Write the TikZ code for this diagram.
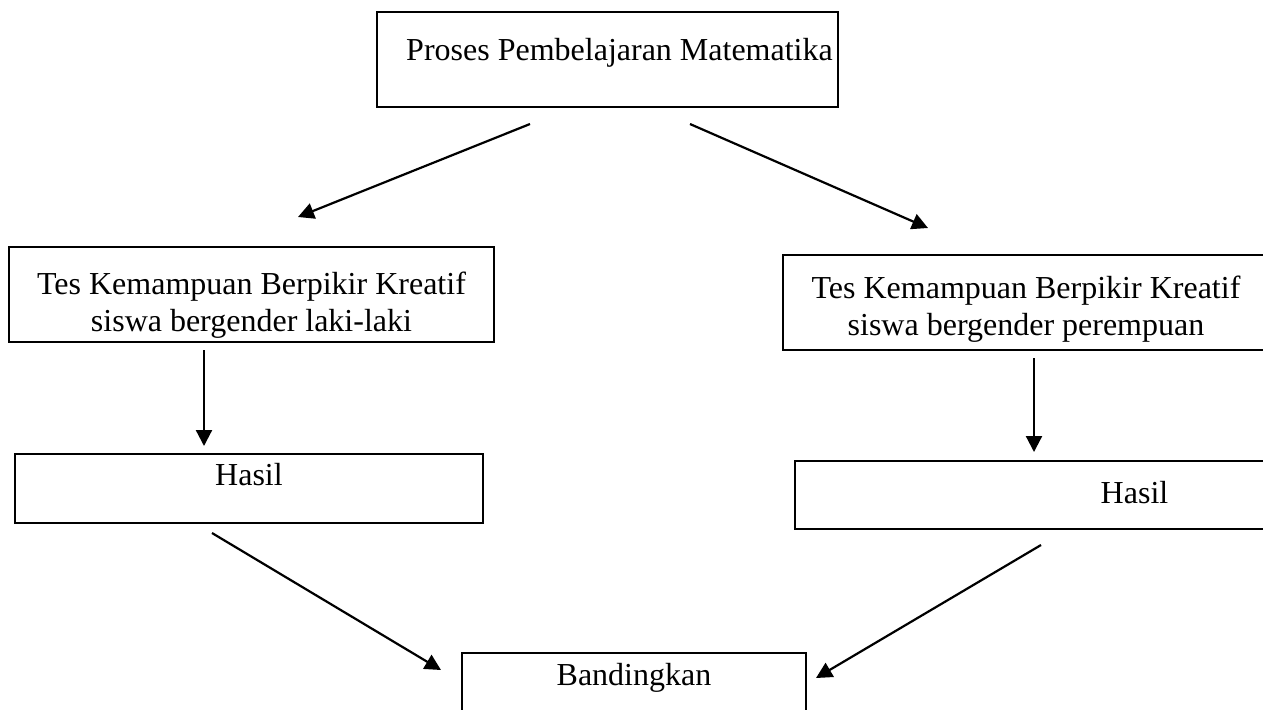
\documentclass[tikz,border=0pt]{standalone}
\usepackage{fontspec}
\setmainfont{Liberation Serif}
\usetikzlibrary{arrows.meta}

\tikzset{
  kotak/.style={draw, line width=1.2pt, inner sep=0pt, anchor=base,
    font=\fontsize{16}{18.5}\selectfont},
  panah/.style={line width=1.1pt, -{Triangle[length=8pt,width=8pt]}}
}
\newcommand{\duabaris}[2]{\begin{tabular}[t]{@{}c@{}}#1\\#2\end{tabular}}

\begin{document}
\begin{tikzpicture}[x=0.5pt,y=-0.5pt]
    \useasboundingbox (0,0) rectangle (1263,709);
    \clip (0,0) rectangle (1263,709);
    % Proses
    \node[kotak, minimum width=230.5pt, text height=24pt, text depth=23.5pt]
        (proses) at (607.5,60) {\hspace*{12pt}Proses Pembelajaran Matematika};
    % Tes kiri dan kanan
    \node[kotak, minimum width=242.5pt, text height=23.5pt, text depth=24pt]
        (tesL) at (251.5,294)
        {\duabaris{Tes Kemampuan Berpikir Kreatif}{siswa bergender laki-laki}};
    \node[kotak, minimum width=243pt, text height=21.5pt, text depth=26pt]
        (tesP) at (1026,298)
        {\duabaris{Tes Kemampuan Berpikir Kreatif}{siswa bergender perempuan}};
    % Hasil
    \node[kotak, minimum width=234pt, text height=15.5pt, text depth=19pt]
        (hasilL) at (249,485) {Hasil};
    \node[kotak, minimum width=339.5pt, text height=21pt, text depth=13pt]
        (hasilP) at (1134.5,503) {Hasil};
    % Bandingkan
    \node[kotak, minimum width=172pt, text height=16pt, text depth=27.5pt]
        (banding) at (634,685) {Bandingkan};
    % Ujung panah
    \coordinate (p1) at (530,124);
    \coordinate (q1) at (298,217);
    \coordinate (p2) at (690,124);
    \coordinate (q2) at (928,228);
    \coordinate (p3) at (204,350);
    \coordinate (q3) at (204,446);
    \coordinate (p4) at (1034,358);
    \coordinate (q4) at (1034,452);
    \coordinate (p5) at (212,533);
    \coordinate (q5) at (441,670);
    \coordinate (p6) at (1041,545);
    \coordinate (q6) at (816,678);
    % Panah
    \draw[panah] (p1) -- (q1);
    \draw[panah] (p2) -- (q2);
    \draw[panah] (p3) -- (q3);
    \draw[panah] (p4) -- (q4);
    \draw[panah] (p5) -- (q5);
    \draw[panah] (p6) -- (q6);
\end{tikzpicture}
\end{document}
